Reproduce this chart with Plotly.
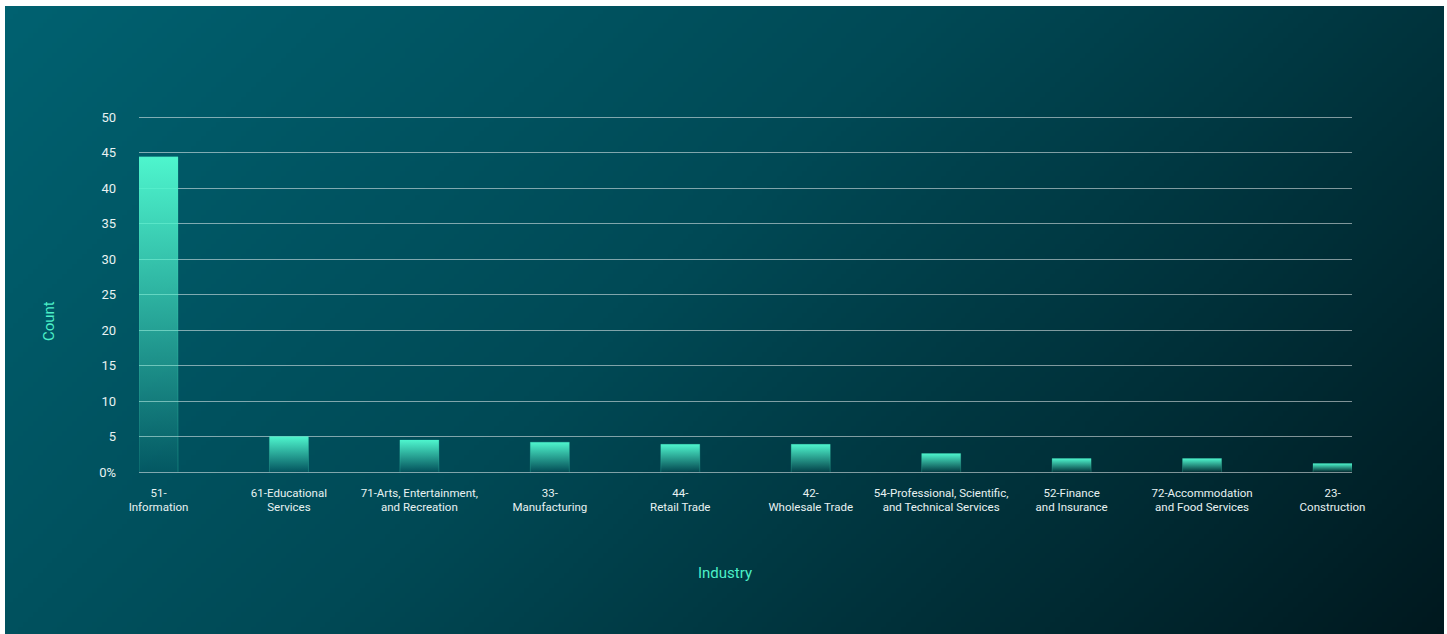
import base64
import struct
import zlib

import plotly.graph_objects as go

# Industry counts
industries = [
    "51-<br>Information",
    "61-Educational<br>Services",
    "71-Arts, Entertainment,<br>and Recreation",
    "33-<br>Manufacturing",
    "44-<br>Retail Trade",
    "42-<br>Wholesale Trade",
    "54-Professional, Scientific,<br>and Technical Services",
    "52-Finance<br>and Insurance",
    "72-Accommodation<br>and Food Services",
    "23-<br>Construction",
]
counts = [44.4, 5.0, 4.5, 4.2, 3.9, 3.9, 2.6, 1.9, 1.9, 1.2]

y_tickvals = [0, 5, 10, 15, 20, 25, 30, 35, 40, 45, 50]
y_ticktext = ["0%", "5", "10", "15", "20", "25", "30", "35", "40", "45", "50"]

x_title = "Industry"
y_title = "Count"

# Figure geometry (px)
W, H = 1447, 634
M_L, M_R, M_T, M_B = 139, 95, 115, 162
Y_MAX = 50.3  # a little headroom so the 50 gridline is drawn
BAR_HALF = 0.1495  # half bar width in category units

MINT = "78,245,205"
TITLE_COLOR = "#4cf0c8"


def gradient_png(w, h, stops):
    """Build a diagonal (135deg) gradient PNG and return it as a data URI."""
    rows = []
    for j in range(h):
        row = bytearray([0])
        for i in range(w):
            t = (i * W / w + j * H / h) / (W + H)
            for k in range(len(stops) - 1):
                p0, c0 = stops[k]
                p1, c1 = stops[k + 1]
                if t <= p1 or k == len(stops) - 2:
                    f = 0 if p1 == p0 else min(max((t - p0) / (p1 - p0), 0), 1)
                    row += bytes(int(round(c0[n] + (c1[n] - c0[n]) * f)) for n in range(3))
                    break
        rows.append(bytes(row))
    raw = b"".join(rows)

    def chunk(tag, data):
        c = struct.pack(">I", len(data)) + tag + data
        return c + struct.pack(">I", zlib.crc32(tag + data) & 0xFFFFFFFF)

    png = b"\x89PNG\r\n\x1a\n"
    png += chunk(b"IHDR", struct.pack(">IIBBBBB", w, h, 8, 2, 0, 0, 0))
    png += chunk(b"IDAT", zlib.compress(raw, 9))
    png += chunk(b"IEND", b"")
    return "data:image/png;base64," + base64.b64encode(png).decode()


bg = gradient_png(
    290,
    128,
    [(0.0, (0, 97, 112)), (0.45, (0, 73, 85)), (1.0, (0, 24, 30))],
)

fig = go.Figure()

for i, v in enumerate(counts):
    fig.add_trace(
        go.Scatter(
            x=[i - BAR_HALF, i - BAR_HALF, i + BAR_HALF, i + BAR_HALF],
            y=[0, v, v, 0],
            mode="lines",
            fill="toself",
            fillgradient=dict(
                type="vertical",
                colorscale=[
                    [0.0, f"rgba({MINT},0.04)"],
                    [1.0, f"rgba({MINT},1)"],
                ],
            ),
            line=dict(width=1, color=f"rgba({MINT},0.22)"),
            hoverinfo="skip",
            showlegend=False,
        )
    )

plot_w = W - M_L - M_R
plot_h = H - M_T - M_B
x0_px, x1_px, y0_px, y1_px = 5, 1444, 6, 634


def px_x(px):
    return (px - M_L) / plot_w


def px_y(py):
    return (H - M_B - py) / plot_h


fig.update_layout(
    width=W,
    height=H,
    margin=dict(l=M_L, r=M_R, t=M_T, b=M_B),
    paper_bgcolor="white",
    plot_bgcolor="rgba(0,0,0,0)",
    font=dict(family="Roboto, sans-serif", color="#e8f2f2"),
    images=[
        dict(
            source=bg,
            xref="paper",
            yref="paper",
            x=px_x(x0_px),
            y=px_y(y0_px),
            sizex=(x1_px - x0_px) / plot_w,
            sizey=(y1_px - y0_px) / plot_h,
            xanchor="left",
            yanchor="top",
            sizing="stretch",
            layer="below",
        )
    ],
    annotations=[
        dict(
            text=x_title,
            xref="paper",
            yref="paper",
            x=px_x(725),
            y=px_y(573),
            xanchor="center",
            yanchor="middle",
            showarrow=False,
            font=dict(size=15, color=TITLE_COLOR),
        ),
        dict(
            text=y_title,
            xref="paper",
            yref="paper",
            x=px_x(49),
            y=px_y(321),
            xanchor="center",
            yanchor="middle",
            textangle=-90,
            showarrow=False,
            font=dict(size=15, color=TITLE_COLOR),
        ),
    ],
    xaxis=dict(
        range=[-BAR_HALF, len(counts) - 1 + BAR_HALF],
        tickvals=list(range(len(industries))),
        ticktext=industries,
        tickfont=dict(size=11.5, color="#e8f2f2"),
        showgrid=False,
        zeroline=False,
        showline=False,
        ticks="",
        ticklabelstandoff=12,
        fixedrange=True,
    ),
    yaxis=dict(
        range=[0, Y_MAX],
        tickvals=y_tickvals,
        ticktext=y_ticktext,
        tickfont=dict(size=13, color="#e8f2f2"),
        showgrid=True,
        gridcolor="rgba(255,255,255,0.5)",
        gridwidth=1,
        zeroline=True,
        zerolinecolor="rgba(255,255,255,0.5)",
        zerolinewidth=1,
        showline=False,
        ticks="",
        ticklabelstandoff=22,
        fixedrange=True,
    ),
)

fig.write_html("out.html")
